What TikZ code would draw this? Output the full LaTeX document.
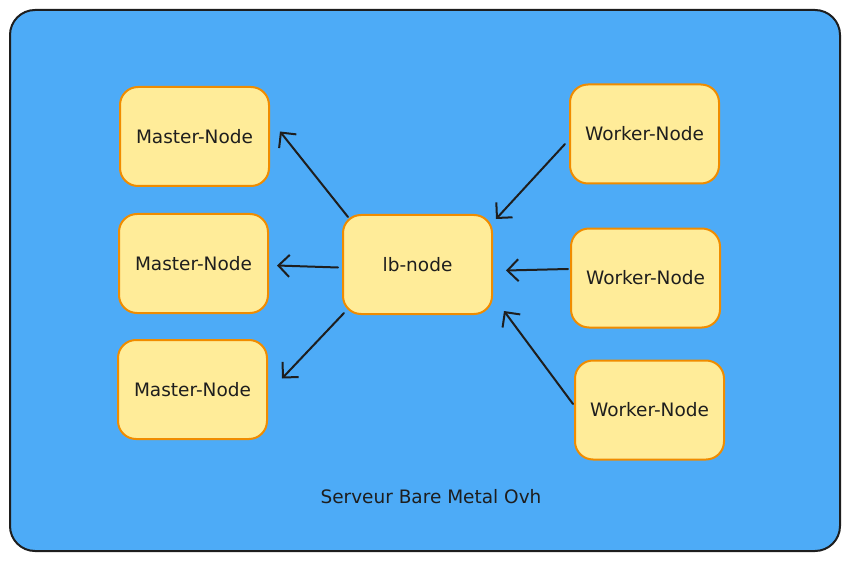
\documentclass[tikz,border=0pt]{standalone}
\usepackage{fontspec}
\setmainfont{DejaVu Sans}
\usetikzlibrary{arrows.meta}
\definecolor{bgblue}{HTML}{4DABF7}
\definecolor{boxfill}{HTML}{FFEC99}
\definecolor{boxline}{HTML}{F08C00}
\definecolor{ink}{HTML}{1E1E1E}
\tikzset{
  handfont/.style={font=\fontsize{18.5}{21}\selectfont},
  nodebox/.style={draw=boxline, fill=boxfill, line width=2pt, rounded corners=18pt,
    minimum width=149pt, minimum height=99pt, inner sep=0pt, text=ink, handfont},
  conn/.style={draw=ink, line width=2pt, line cap=round,
    -{Straight Barb[length=11pt,width=22pt,line width=2pt]}}
}
\begin{document}
\begin{tikzpicture}[x=1pt,y=-1pt]
\useasboundingbox (0,0) rectangle (850,561);
\node[draw=ink, fill=bgblue, line width=2pt, rounded corners=25pt,
  minimum width=830pt, minimum height=541pt, inner sep=0pt] (srv) at (425,280.5) {};
\node[nodebox] (m1) at (194.5,136.5) {Master-Node};
\node[nodebox] (m2) at (193.5,263.5) {Master-Node};
\node[nodebox] (m3) at (192.5,389.5) {Master-Node};
\node[nodebox] (w1) at (644.5,134) {Worker-Node};
\node[nodebox] (w2) at (645.5,278) {Worker-Node};
\node[nodebox] (w3) at (649.5,410) {Worker-Node};
\node[nodebox] (lb) at (417.5,264.5) {lb-node};
\node[text=ink, handfont] (lbl) at (431,497) {Serveur Bare Metal Ovh};
\draw[conn] ([shift={(6,3)}]lb.north west) -- ([shift={(10,-5)}]m1.east);
\draw[conn] ([shift={(-4,3)}]lb.west) -- ([shift={(8,2)}]m2.east);
\draw[conn] ([shift={(2,-2)}]lb.south west) -- ([shift={(14,-11)}]m3.east);
\draw[conn] ([shift={(-4,10)}]w1.west) -- ([shift={(3,5)}]lb.north east);
\draw[conn] ([shift={(-2,-9)}]w2.west) -- ([shift={(13,6)}]lb.east);
\draw[conn] ([shift={(-1,-6)}]w3.west) -- ([shift={(11,-4)}]lb.south east);
\end{tikzpicture}
\end{document}
